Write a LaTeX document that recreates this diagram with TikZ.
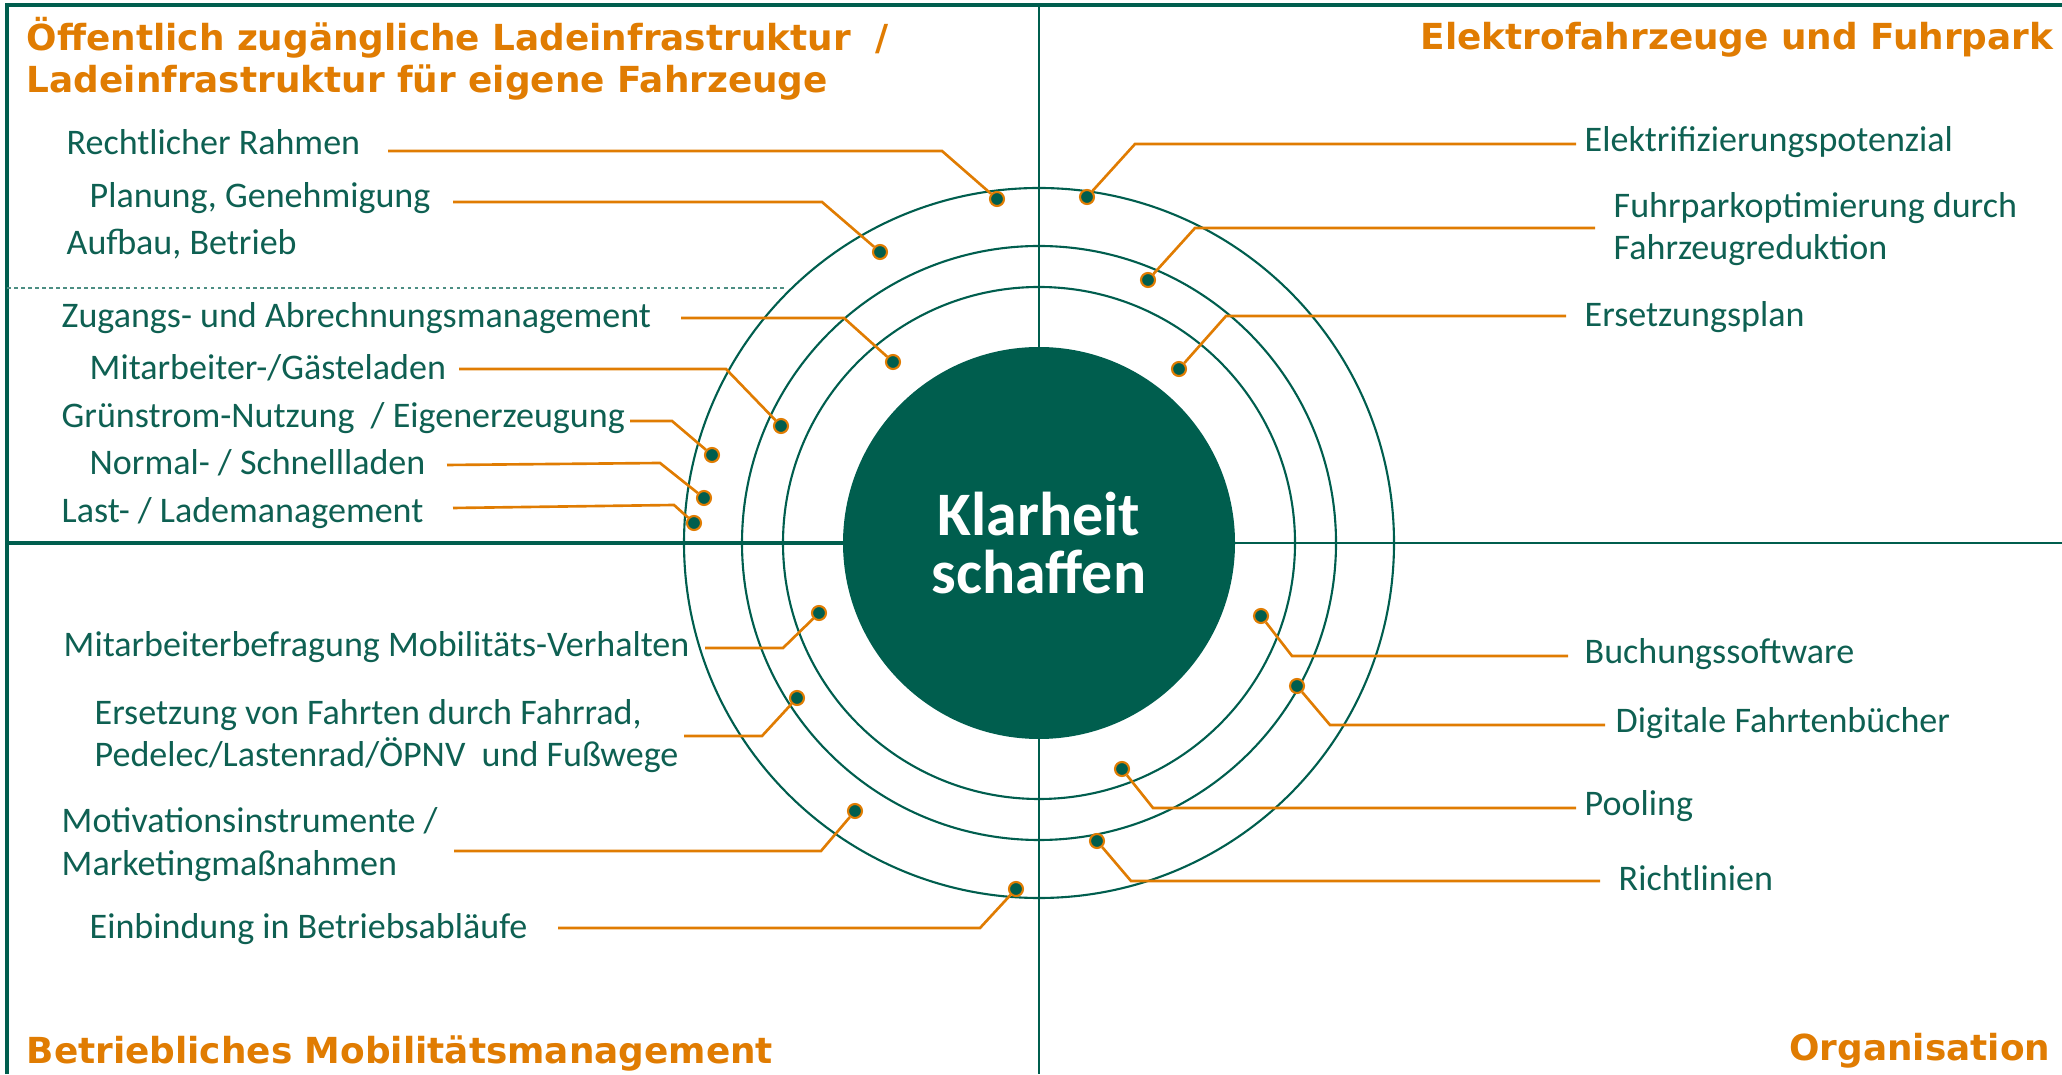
\documentclass[tikz,border=0pt]{standalone}
\usepackage{fontspec}
\setmainfont{Carlito}
\newfontfamily\headfont{DejaVu Sans}

\definecolor{dkgreen}{RGB}{0,94,78}
\definecolor{txtgreen}{RGB}{14,96,82}
\definecolor{ldorange}{RGB}{224,124,2}

\tikzstyle{heading} = [font=\headfont\bfseries\fontsize{10.2}{12.2}\selectfont, text=ldorange, inner sep=0pt, align=left]
\tikzstyle{item} = [font=\fontsize{10.25}{12.2}\selectfont, text=txtgreen, inner sep=0pt, align=left]
\tikzstyle{dot} = [circle, fill=dkgreen, draw=ldorange, line width=0.6pt, minimum size=0.14cm, inner sep=0pt]
\tikzstyle{leader} = [draw=ldorange, line width=0.75pt]
\tikzstyle{ring} = [draw=dkgreen, line width=0.6pt]
\tikzstyle{divider} = [draw=dkgreen, line width=0.7pt]

\begin{document}
\begin{tikzpicture}
\useasboundingbox (0,0) rectangle (20.62,10.74);

% frame and quadrants
\coordinate (mid) at (10.39,5.31);
\draw [divider, line width=0.9pt] (0.07,0) -- (0.07,10.69) -- (20.62,10.69);
\draw [divider] (10.39,10.69) -- (10.39,0);
\draw [divider, line width=1pt] (0.07,5.31) -- (mid);
\draw [divider] (mid) -- (20.62,5.31);
\draw [dkgreen!70, line width=0.4pt, dash pattern=on 1pt off 1pt] (0.07,7.86) -- (7.86,7.86);

% rings
\draw [ring] (mid) circle (3.55);
\draw [ring] (mid) circle (2.97);
\draw [ring] (mid) circle (2.56);

% headings
\node (t-lade) [heading, anchor=base west] at (0.26,9.81) {Öffentlich zugängliche Ladeinfrastruktur~~/\\Ladeinfrastruktur für eigene Fahrzeuge};
\node (t-fahrzeug) [heading, anchor=base east] at (20.54,10.24) {Elektrofahrzeuge und Fuhrpark};
\node (t-mobil) [heading, anchor=base west] at (0.26,0.11) {Betriebliches Mobilitätsmanagement};
\node (t-orga) [heading, anchor=base east] at (20.51,0.14) {Organisation};

% Ladeinfrastruktur
\node (rahmen) [item, anchor=base west] at (0.66,9.19) {Rechtlicher Rahmen};
\node (planung) [item, anchor=base west] at (0.89,8.66) {Planung, Genehmigung};
\node (aufbau) [item, anchor=base west] at (0.66,8.19) {Aufbau, Betrieb};
\node (zugang) [item, anchor=base west] at (0.61,7.46) {Zugangs- und Abrechnungsmanagement};
\node (gaeste) [item, anchor=base west] at (0.89,6.94) {Mitarbeiter-/Gästeladen};
\node (gruen) [item, anchor=base west] at (0.61,6.46) {Grünstrom-Nutzung~~/ Eigenerzeugung};
\node (normal) [item, anchor=base west] at (0.89,5.99) {Normal- / Schnellladen};
\node (last) [item, anchor=base west] at (0.61,5.51) {Last- / Lademanagement};

\node (d-rahmen) [dot] at (9.97,8.75) {};
\node (d-planung) [dot] at (8.80,8.22) {};
\node (d-zugang) [dot] at (8.93,7.12) {};
\node (d-gaeste) [dot] at (7.81,6.48) {};
\node (d-gruen) [dot] at (7.12,6.19) {};
\node (d-normal) [dot] at (7.04,5.76) {};
\node (d-last) [dot] at (6.94,5.51) {};

\coordinate (s-rahmen) at (3.88,9.23);
\coordinate (b-rahmen) at (9.42,9.23);
\coordinate (s-planung) at (4.53,8.72);
\coordinate (b-planung) at (8.22,8.72);
\coordinate (s-zugang) at (6.81,7.56);
\coordinate (b-zugang) at (8.44,7.56);
\coordinate (s-gaeste) at (4.59,7.05);
\coordinate (b-gaeste) at (7.26,7.05);
\coordinate (s-gruen) at (6.30,6.53);
\coordinate (b-gruen) at (6.72,6.53);
\coordinate (s-normal) at (4.47,6.09);
\coordinate (b-normal) at (6.60,6.11);
\coordinate (s-last) at (4.53,5.66);
\coordinate (b-last) at (6.74,5.69);

\draw [leader] (s-rahmen) -- (b-rahmen) -- (d-rahmen);
\draw [leader] (s-planung) -- (b-planung) -- (d-planung);
\draw [leader] (s-zugang) -- (b-zugang) -- (d-zugang);
\draw [leader] (s-gaeste) -- (b-gaeste) -- (d-gaeste);
\draw [leader] (s-gruen) -- (b-gruen) -- (d-gruen);
\draw [leader] (s-normal) -- (b-normal) -- (d-normal);
\draw [leader] (s-last) -- (b-last) -- (d-last);

% Elektrofahrzeuge und Fuhrpark
\node (potenzial) [item, anchor=base west] at (15.84,9.22) {Elektrifizierungspotenzial};
\node (fuhrpark) [item, anchor=base west] at (16.13,8.14) {Fuhrparkoptimierung durch\\Fahrzeugreduktion};
\node (plan) [item, anchor=base west] at (15.84,7.47) {Ersetzungsplan};

\node (d-potenzial) [dot] at (10.87,8.77) {};
\node (d-fuhrpark) [dot] at (11.48,7.94) {};
\node (d-plan) [dot] at (11.79,7.05) {};

\coordinate (b-potenzial) at (11.35,9.30);
\coordinate (e-potenzial) at (15.76,9.30);
\coordinate (b-fuhrpark) at (11.95,8.46);
\coordinate (e-fuhrpark) at (15.95,8.46);
\coordinate (b-plan) at (12.26,7.58);
\coordinate (e-plan) at (15.66,7.58);

\draw [leader] (d-potenzial) -- (b-potenzial) -- (e-potenzial);
\draw [leader] (d-fuhrpark) -- (b-fuhrpark) -- (e-fuhrpark);
\draw [leader] (d-plan) -- (b-plan) -- (e-plan);

% Betriebliches Mobilitaetsmanagement
\node (befragung) [item, anchor=base west] at (0.63,4.17) {Mitarbeiterbefragung Mobilitäts-Verhalten};
\node (fahrrad) [item, anchor=base west] at (0.94,3.07) {Ersetzung von Fahrten durch Fahrrad,\\Pedelec/Lastenrad/ÖPNV~~und Fußwege};
\node (motivation) [item, anchor=base west] at (0.61,1.99) {Motivationsinstrumente /\\Marketingmaßnahmen};
\node (einbindung) [item, anchor=base west] at (0.89,1.36) {Einbindung in Betriebsabläufe};

\node (d-befragung) [dot] at (8.19,4.61) {};
\node (d-fahrrad) [dot] at (7.97,3.76) {};
\node (d-motivation) [dot] at (8.55,2.63) {};
\node (d-einbindung) [dot] at (10.16,1.85) {};

\coordinate (s-befragung) at (7.05,4.26);
\coordinate (b-befragung) at (7.83,4.26);
\coordinate (s-fahrrad) at (6.84,3.38);
\coordinate (b-fahrrad) at (7.62,3.38);
\coordinate (s-motivation) at (4.54,2.23);
\coordinate (b-motivation) at (8.21,2.23);
\coordinate (s-einbindung) at (5.58,1.46);
\coordinate (b-einbindung) at (9.80,1.46);

\draw [leader] (s-befragung) -- (b-befragung) -- (d-befragung);
\draw [leader] (s-fahrrad) -- (b-fahrrad) -- (d-fahrrad);
\draw [leader] (s-motivation) -- (b-motivation) -- (d-motivation);
\draw [leader] (s-einbindung) -- (b-einbindung) -- (d-einbindung);

% Organisation
\node (buchung) [item, anchor=base west] at (15.84,4.10) {Buchungssoftware};
\node (fahrtenbuch) [item, anchor=base west] at (16.15,3.41) {Digitale Fahrtenbücher};
\node (pooling) [item, anchor=base west] at (15.84,2.58) {Pooling};
\node (richtlinien) [item, anchor=base west] at (16.18,1.84) {Richtlinien};

\node (d-buchung) [dot] at (12.61,4.58) {};
\node (d-fahrtenbuch) [dot] at (12.97,3.88) {};
\node (d-pooling) [dot] at (11.22,3.05) {};
\node (d-richtlinien) [dot] at (10.97,2.33) {};

\coordinate (b-buchung) at (12.92,4.18);
\coordinate (e-buchung) at (15.68,4.18);
\coordinate (b-fahrtenbuch) at (13.30,3.49);
\coordinate (e-fahrtenbuch) at (16.05,3.49);
\coordinate (b-pooling) at (11.53,2.66);
\coordinate (e-pooling) at (15.76,2.66);
\coordinate (b-richtlinien) at (11.31,1.93);
\coordinate (e-richtlinien) at (16.00,1.93);

\draw [leader] (d-buchung) -- (b-buchung) -- (e-buchung);
\draw [leader] (d-fahrtenbuch) -- (b-fahrtenbuch) -- (e-fahrtenbuch);
\draw [leader] (d-pooling) -- (b-pooling) -- (e-pooling);
\draw [leader] (d-richtlinien) -- (b-richtlinien) -- (e-richtlinien);

% centre
\node (core) [circle, fill=dkgreen, minimum size=3.92cm, inner sep=0pt, text=white, align=center, font=\bfseries\fontsize{17.6}{16.6}\selectfont] at (mid) {Klarheit\\schaffen};

\end{tikzpicture}
\end{document}
